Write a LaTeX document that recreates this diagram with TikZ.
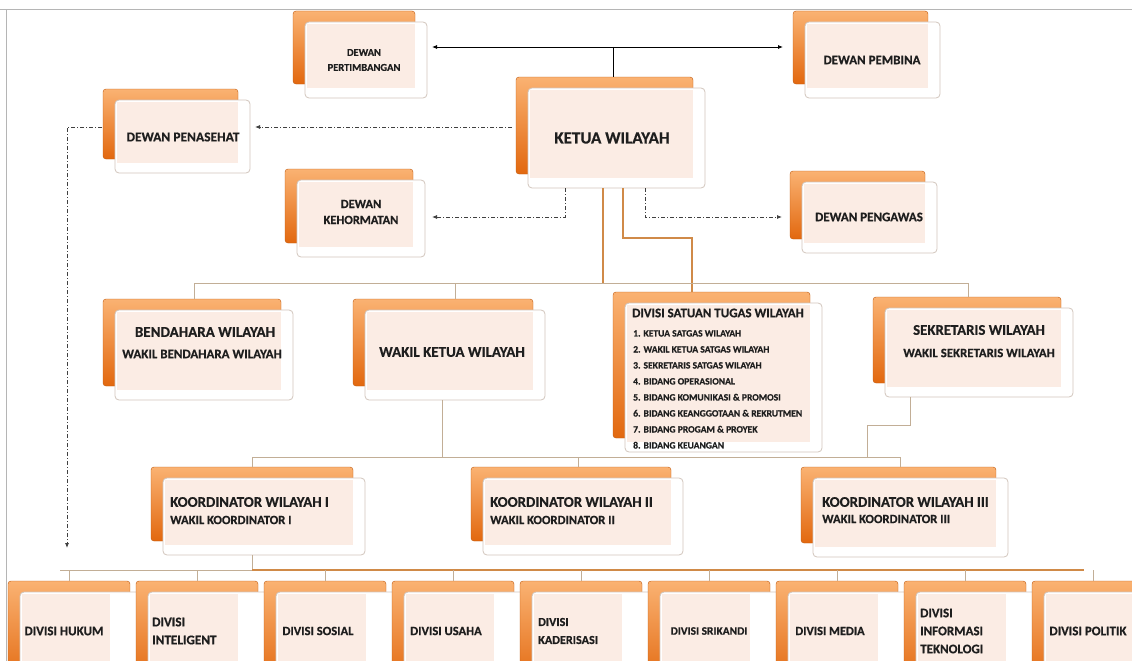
\documentclass[tikz,border=0pt]{standalone}
\usepackage{fontspec}
\setmainfont{Carlito}[BoldFeatures={FakeBold=0.6}]
\usetikzlibrary{arrows.meta}
\definecolor{obot}{HTML}{E2680F}
\definecolor{otop}{HTML}{FAB272}
\definecolor{pinkf}{HTML}{FBECE4}
\definecolor{cardedge}{HTML}{D2C6BD}
\definecolor{tanl}{HTML}{C2AE96}
\definecolor{orl}{HTML}{D08A48}
\definecolor{txt}{HTML}{1E1E1E}
\definecolor{frame}{HTML}{B5B5B5}
\newcommand\fz[1]{\bfseries\fontsize{#1}{18}\selectfont}
\tikzset{
  backbox/.style={rounded corners=3pt, top color=otop, bottom color=obot, draw=obot!85!black, line width=0.4pt, inner sep=0pt, outer sep=0pt},
  cardbox/.style={rounded corners=4pt, fill=white, draw=cardedge, line width=0.8pt, inner sep=0pt, outer sep=0pt},
  lbl/.style={text=txt, align=center, inner sep=0pt},
  dd/.style={draw=black!75, line width=0.8pt, dash pattern=on 4pt off 2pt on 1pt off 2pt},
  tconn/.style={draw=tanl, line width=0.9pt},
  oconn/.style={draw=orl, line width=1.4pt},
  tip/.style={-{Latex[length=5pt,width=4pt]}},
}
\newcommand\card[5]{%
  \node[backbox, anchor=north west, minimum width={#4-#2}, minimum height={#5-#3-3}] (#1-b) at (#2-12,#3-11) {};
  \node[cardbox, anchor=north west, minimum width={#4-#2}, minimum height={#5-#3}] (#1) at (#2,#3) {};
  \fill[pinkf] (#2+2,#3+2) rectangle (#4-12,#5-10);
}
\begin{document}
\begin{tikzpicture}[x=1pt,y=-1pt]
\useasboundingbox (0,0) rectangle (1132,661);
\clip (0,0) rectangle (1132,661);
\fill[white] (0,0) rectangle (1132,661);
\draw[frame, line width=1pt] (0,10) -- (1132,10);
\draw[frame, line width=0.8pt] (6,10) -- (6,661);

% cards
\card{pert}{305}{22}{427}{98}
\card{pemb}{805}{22}{940}{98}
\card{ketua}{528}{88}{705}{188}
\card{penas}{115}{100}{250}{173}
\card{kehor}{297}{180}{425}{257}
\card{pengaw}{802}{182}{937}{253}
\card{bend}{115}{310}{293}{400}
\card{wakil}{365}{310}{545}{400}
\card{satgas}{625}{303}{822}{452}
\card{sekr}{885}{308}{1073}{397}
\card{kA}{163}{478}{365}{555}
\card{kB}{483}{478}{683}{555}
\card{kC}{813}{478}{1008}{557}
\foreach \i in {0,...,8}{
  \pgfmathtruncatemacro\L{10+128*\i}
  \card{d\i}{\L+10}{592}{\L+112}{700}
}

% texts
\node[lbl, font={\bfseries\fontsize{10.5}{15}\selectfont}] (pert-t) at (364,60) {DEWAN\\PERTIMBANGAN};
\node[lbl, font=\fz{13}] (pemb-t) at (872,60) {DEWAN PEMBINA};
\node[lbl, font=\fz{17}] (ketua-t) at (612,138) {KETUA WILAYAH};
\node[lbl, font=\fz{13.5}] (penas-t) at (183,137) {DEWAN PENASEHAT};
\node[lbl, font={\bfseries\fontsize{12.5}{16}\selectfont}] (kehor-t) at (361,212) {DEWAN\\KEHORMATAN};
\node[lbl, font=\fz{13}] (pengaw-t) at (869,217) {DEWAN PENGAWAS};
\node[lbl, font=\fz{15}] (bend-t) at (205,332) {BENDAHARA WILAYAH};
\node[lbl, font=\fz{13}] (bend-t2) at (202,354) {WAKIL BENDAHARA WILAYAH};
\node[lbl, font=\fz{15}] (wakil-t) at (452,352) {WAKIL KETUA WILAYAH};
\node[lbl, font=\fz{13}, anchor=west] (satgas-t) at (632,313) {DIVISI SATUAN TUGAS WILAYAH};
\node[font={\bfseries\fontsize{9.6}{16}\selectfont}, text=txt, align=left, anchor=north west, inner sep=0pt] (satgas-l) at (633,330) {1. KETUA SATGAS WILAYAH\\2. WAKIL KETUA SATGAS WILAYAH\\3. SEKRETARIS SATGAS WILAYAH\\4. BIDANG OPERASIONAL\\5. BIDANG KOMUNIKASI \& PROMOSI\\6. BIDANG KEANGGOTAAN \& REKRUTMEN\\7. BIDANG PROGAM \& PROYEK\\8. BIDANG KEUANGAN};
\node[lbl, font=\fz{14.8}] (sekr-t) at (979,330) {SEKRETARIS WILAYAH};
\node[lbl, font=\fz{12.8}] (sekr-t2) at (979,353) {WAKIL SEKRETARIS WILAYAH};
\node[lbl, font=\fz{14.8}, anchor=west] (kA-t) at (170,502) {KOORDINATOR WILAYAH I};
\node[lbl, font=\fz{12.6}, anchor=west] (kA-t2) at (170,520) {WAKIL KOORDINATOR I};
\node[lbl, font=\fz{14.8}, anchor=west] (kB-t) at (490,502) {KOORDINATOR WILAYAH II};
\node[lbl, font=\fz{12.6}, anchor=west] (kB-t2) at (490,520) {WAKIL KOORDINATOR II};
\node[lbl, font=\fz{14.8}, anchor=west] (kC-t) at (822,502) {KOORDINATOR WILAYAH III};
\node[lbl, font=\fz{12.6}, anchor=west] (kC-t2) at (822,519) {WAKIL KOORDINATOR III};
\node[lbl, font=\fz{13}] (d0-t) at (64,631) {DIVISI HUKUM};
\node[lbl, font=\fz{13.2}, align=left, anchor=west] (d1-t) at (152,631) {DIVISI\\INTELIGENT};
\node[lbl, font=\fz{12.6}] (d2-t) at (318,631) {DIVISI SOSIAL};
\node[lbl, font=\fz{12.6}] (d3-t) at (446,631) {DIVISI USAHA};
\node[lbl, font=\fz{12.2}, align=left, anchor=west] (d4-t) at (538,631) {DIVISI\\KADERISASI};
\node[lbl, font=\fz{11.4}] (d5-t) at (709,631) {DIVISI SRIKANDI};
\node[lbl, font=\fz{12.4}] (d6-t) at (830,631) {DIVISI MEDIA};
\node[lbl, font=\fz{13}, align=left, anchor=west] (d7-t) at (920,631) {DIVISI\\INFORMASI\\TEKNOLOGI};
\node[lbl, font=\fz{13}] (d8-t) at (1088,631) {DIVISI POLITIK};

% top solid arrows
\coordinate (topj) at (613,47);
\draw[black, line width=0.8pt] (topj) -- (topj |- ketua-b.north);
\draw[black, line width=0.8pt, {Latex[length=5pt,width=4pt]}-{Latex[length=5pt,width=4pt]}] ([xshift=5pt]pert.east |- topj) -- ([xshift=-10pt]pemb-b.west |- topj);

% dash-dot connectors
\coordinate (pj) at (0,127);
\coordinate (lj) at (67,548);
\draw[dd, tip] ([xshift=-4pt]ketua-b.west |- pj) -- ([xshift=5pt]penas.east |- pj);
\draw[dd, tip] ([xshift=-1pt]penas-b.west |- pj) -| (lj);
\coordinate (kj) at (565,217);
\coordinate (gj) at (645,217);
\draw[dd, tip] (kj |- ketua.south) |- ([xshift=7pt]kehor.east |- kj);
\draw[dd, tip] (gj |- ketua.south) |- ([xshift=-8pt]pengaw-b.west |- gj);

% orange connectors from ketua
\coordinate (l2) at (603,283);
\coordinate (sj) at (623,238);
\coordinate (sx) at (692,238);
\draw[oconn] (l2 |- ketua.south) -- (l2);
\draw[oconn] (sj |- ketua.south) -- (sj) -- (sx) -- (sx |- satgas-b.north);

% level 2
\coordinate (c1) at (194,283);
\coordinate (c2) at (455,283);
\coordinate (c3) at (968,283);
\draw[tconn] (c1 |- bend-b.north) -- (c1) -- (c3) -- (c3 |- sekr-b.north);
\draw[tconn] (c2) -- (c2 |- wakil-b.north);

% level 3
\coordinate (w) at (442,457);
\coordinate (k1x) at (252,457);
\coordinate (k2x) at (578,457);
\coordinate (k3x) at (900,457);
\draw[tconn] (w |- wakil.south) -- (w);
\draw[tconn] (k1x |- kA-b.north) -- (k1x) -- (k3x) -- (k3x |- kC-b.north);
\draw[tconn] (k2x) -- (k2x |- kB-b.north);
\coordinate (s1) at (910,425);
\coordinate (s2) at (867,457);
\draw[tconn] (s1 |- sekr.south) -- (s1) -| (s2);

% level 4
\coordinate (b0) at (252,570);
\coordinate (bl) at (60,570);
\coordinate (br) at (1084,570);
\draw[tconn] (b0 |- kA.south) -- (b0);
\draw[tconn] (bl) -- (b0);
\draw[oconn, line width=1.1pt] (b0) -- (br);
\foreach \i in {0,...,8}{
  \draw[tconn] (d\i-b.north |- bl) -- (d\i-b.north);
}
\end{tikzpicture}
\end{document}
